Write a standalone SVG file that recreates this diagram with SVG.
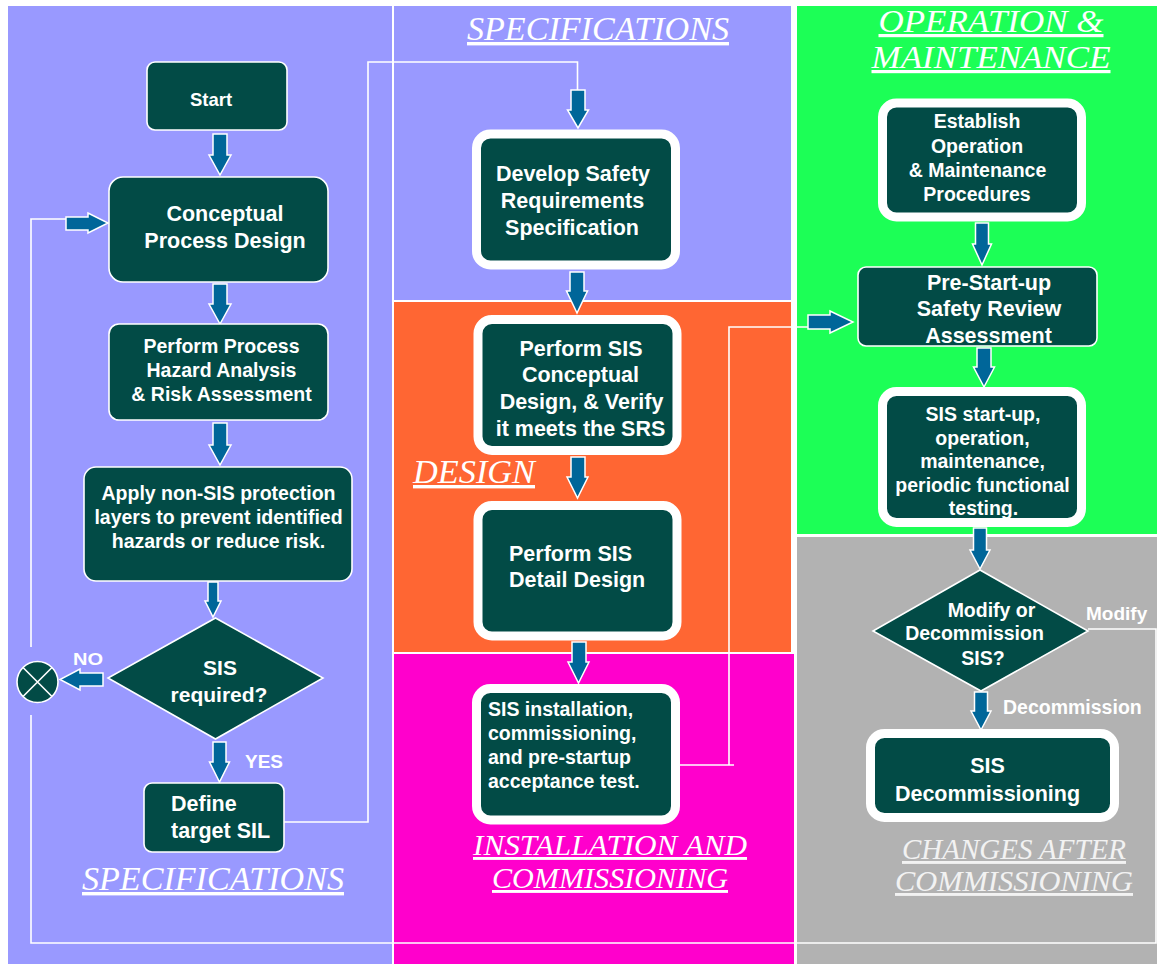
<svg xmlns="http://www.w3.org/2000/svg" width="1157" height="964" viewBox="0 0 1157 964">
<style>
.box{fill:#024B46;stroke:#fff;stroke-width:1.6}
.thick{fill:#024B46;stroke:#fff;stroke-width:9}
.t{fill:#fff;font-family:"Liberation Sans",Arial,sans-serif;font-weight:bold;text-anchor:middle}
.l{fill:#fff;font-family:"Liberation Sans",Arial,sans-serif;font-weight:bold}
.arr{fill:#006699;stroke:#fff;stroke-width:1.5;stroke-linejoin:miter}
.conn{fill:none;stroke:#fff;stroke-width:1.6}
.ttl{fill:#fff;font-family:"Liberation Serif","Times New Roman",serif;font-style:italic;text-decoration:underline;text-anchor:middle}
</style>
<rect x="0" y="0" width="1157" height="964" fill="#fff"/>
<g id="panels">
<rect x="8" y="6" width="384" height="958" fill="#9999FF"/>
<rect x="394" y="6" width="397" height="294" fill="#9999FF"/>
<rect x="394" y="302" width="397" height="350" fill="#FF6633"/>
<rect x="394" y="654" width="400" height="310" fill="#FF00CC"/>
<rect x="797" y="6" width="360" height="528" fill="#1CFF56"/>
<rect x="797" y="537" width="360" height="427" fill="#B2B2B2"/>
</g>
<g id="titles">
<text class="ttl" x="598" y="40" font-size="34" textLength="262" lengthAdjust="spacingAndGlyphs">SPECIFICATIONS</text>
<text class="ttl" x="213" y="890" font-size="34" textLength="262" lengthAdjust="spacingAndGlyphs">SPECIFICATIONS</text>
<text class="ttl" x="474" y="483" font-size="34" textLength="122" lengthAdjust="spacingAndGlyphs">DESIGN</text>
<text class="ttl" x="610" y="855" font-size="29" textLength="274" lengthAdjust="spacingAndGlyphs">INSTALLATION AND</text>
<text class="ttl" x="610" y="888" font-size="29" textLength="236" lengthAdjust="spacingAndGlyphs">COMMISSIONING</text>
<text class="ttl" x="991" y="32" font-size="32" textLength="225" lengthAdjust="spacingAndGlyphs">OPERATION &amp;</text>
<text class="ttl" x="991" y="68" font-size="32" textLength="239" lengthAdjust="spacingAndGlyphs">MAINTENANCE</text>
<text class="ttl" x="1014" y="859" font-size="29" textLength="224" lengthAdjust="spacingAndGlyphs" style="fill:#F2F2F2">CHANGES AFTER</text>
<text class="ttl" x="1014" y="891" font-size="29" textLength="238" lengthAdjust="spacingAndGlyphs" style="fill:#F2F2F2">COMMISSIONING</text>
</g>
<g id="connectors">
<path class="conn" d="M1088,629 H1156 V943 H31 V715"/>
<path class="conn" d="M31,647 V219 H66"/>
<path class="conn" d="M284,822 H368 V62 H577.5 V90"/>
<path class="conn" d="M679,765 H734 M729,765 V327 H808"/>
<polygon class="arr" points="213,134 227,134 227,155 231,155 220,175 209,155 213,155"/>
<polygon class="arr" points="213,284 227,284 227,304 231,304 220,324 209,304 213,304"/>
<polygon class="arr" points="213,423 227,423 227,445 231,445 220,465 209,445 213,445"/>
<polygon class="arr" points="208,582 218,582 218,601 221,601 213,617 205,601 208,601"/>
<polygon class="arr" points="213,742 226,742 226,762 229.5,762 219.5,782 209.5,762 213,762"/>
<polygon class="arr" points="103,673 103,686 80,686 80,690 60,679.5 80,669 80,673"/>
<polygon class="arr" points="66,217 88,217 88,213 108,223 88,233 88,230 66,230"/>
<polygon class="arr" points="571,90 585,90 585,110 588.5,110 578,128 567.5,110 571,110"/>
<polygon class="arr" points="570,272 584,272 584,291 587.5,291 577,313 566.5,291 570,291"/>
<polygon class="arr" points="571,457 585,457 585,477 588,477 577.5,498 567,477 571,477"/>
<polygon class="arr" points="572,642 586,642 586,662 589,662 578.5,683 568,662 572,662"/>
<polygon class="arr" points="808,315 830,315 830,311 853,322 830,333 830,329 808,329"/>
<polygon class="arr" points="975.5,223 988.5,223 988.5,244 991.5,244 982,265 972.5,244 975.5,244"/>
<polygon class="arr" points="977,348 991,348 991,367 994.5,367 984,387 973.5,367 977,367"/>
<polygon class="arr" points="973.5,528 986.5,528 986.5,550 990,550 980,569 970,550 973.5,550"/>
<polygon class="arr" points="974.5,692 987.5,692 987.5,711 991,711 981,730 971,711 974.5,711"/>
</g>
<g id="edge-labels">
<text class="l" x="73" y="665" font-size="17" textLength="30" lengthAdjust="spacingAndGlyphs">NO</text>
<text class="l" x="245" y="768" font-size="18" textLength="38" lengthAdjust="spacingAndGlyphs">YES</text>
<text class="l" x="1086" y="620" font-size="19">Modify</text>
<text class="l" x="1003" y="714" font-size="19.5">Decommission</text>
</g>
<g id="start">
<rect class="box" x="147" y="62" width="140" height="68" rx="8"/>
<text class="t" x="211" y="106" font-size="18.5">Start</text>
</g>
<g id="conceptual-process-design">
<rect class="box" x="109" y="177" width="219" height="105" rx="14"/>
<text class="t" x="225" y="221" font-size="21.5">Conceptual</text>
<text class="t" x="225" y="248" font-size="21.5">Process Design</text>
</g>
<g id="hazard-analysis">
<rect class="box" x="109" y="324" width="219" height="96" rx="10"/>
<text class="t" x="221.5" y="353" font-size="19.5">Perform Process</text>
<text class="t" x="221.5" y="377" font-size="19.5">Hazard Analysis</text>
<text class="t" x="221.5" y="401" font-size="19.5">&amp; Risk Assessment</text>
</g>
<g id="non-sis-layers">
<rect class="box" x="84" y="467" width="268" height="114" rx="12"/>
<text class="t" x="218.5" y="500" font-size="19.5">Apply non-SIS protection</text>
<text class="t" x="218.5" y="524" font-size="19.5">layers to prevent identified</text>
<text class="t" x="218.5" y="548" font-size="19.5">hazards or reduce risk.</text>
</g>
<g id="sis-required">
<polygon class="box" points="215.5,618 323,678 215.5,739 108,678"/>
<text class="t" x="220" y="675" font-size="21">SIS</text>
<text class="t" x="219" y="702" font-size="21">required?</text>
</g>
<g id="no-sis">
<circle class="box" cx="37.5" cy="682" r="20.5"/>
<path class="conn" d="M23,667.5 L52,696.5 M52,667.5 L23,696.5"/>
</g>
<g id="define-sil">
<rect class="box" x="144" y="783" width="140" height="69" rx="8"/>
<text class="l" x="171" y="811" font-size="21.5">Define</text>
<text class="l" x="171" y="838" font-size="21.5">target SIL</text>
</g>
<g id="srs">
<rect class="thick" x="476.5" y="134" width="199" height="131" rx="14"/>
<text class="t" x="573" y="181" font-size="21.5">Develop Safety</text>
<text class="t" x="572.5" y="208" font-size="21.5">Requirements</text>
<text class="t" x="572" y="235" font-size="21.5">Specification</text>
</g>
<g id="conceptual-design">
<rect class="thick" x="478" y="319.5" width="199" height="131" rx="14"/>
<text class="t" x="581" y="356" font-size="21.5">Perform SIS</text>
<text class="t" x="580.5" y="382" font-size="21.5">Conceptual</text>
<text class="t" x="581.5" y="409" font-size="21.5">Design, &amp; Verify</text>
<text class="t" x="580.5" y="436" font-size="21.5">it meets the SRS</text>
</g>
<g id="detail-design">
<rect class="thick" x="478" y="505.5" width="199" height="130.5" rx="14"/>
<text class="l" x="509" y="561" font-size="21.5">Perform SIS</text>
<text class="l" x="509" y="587" font-size="21.5">Detail Design</text>
</g>
<g id="installation">
<rect class="thick" x="476.5" y="688.5" width="199" height="131.5" rx="14"/>
<text class="l" x="488" y="716" font-size="19.5">SIS installation,</text>
<text class="l" x="488" y="740" font-size="19.5">commissioning,</text>
<text class="l" x="488" y="764" font-size="19.5">and pre-startup</text>
<text class="l" x="488" y="788" font-size="19.5">acceptance test.</text>
</g>
<g id="om-procedures">
<rect class="thick" x="882.5" y="103" width="199" height="114" rx="14"/>
<text class="t" x="977" y="128" font-size="19.5">Establish</text>
<text class="t" x="977" y="153" font-size="19.5">Operation</text>
<text class="t" x="977.5" y="177" font-size="19.5">&amp; Maintenance</text>
<text class="t" x="977" y="201" font-size="19.5">Procedures</text>
</g>
<g id="pssr">
<rect class="box" x="858" y="267" width="239" height="79" rx="8"/>
<text class="t" x="989" y="290" font-size="21.5">Pre-Start-up</text>
<text class="t" x="989" y="316" font-size="21.5">Safety Review</text>
<text class="t" x="988.5" y="343" font-size="21.5">Assessment</text>
</g>
<g id="operation">
<rect class="thick" x="882.5" y="391.5" width="199" height="131" rx="14"/>
<text class="t" x="983" y="421" font-size="19.5">SIS start-up,</text>
<text class="t" x="982.5" y="445" font-size="19.5">operation,</text>
<text class="t" x="982.5" y="468" font-size="19.5">maintenance,</text>
<text class="t" x="982.5" y="492" font-size="19.5">periodic functional</text>
<text class="t" x="983.5" y="515" font-size="19.5">testing.</text>
</g>
<g id="modify-decision">
<polygon class="box" points="980,570 1088,631 981,691 873,631"/>
<text class="t" x="991.5" y="617" font-size="19.5">Modify or</text>
<text class="t" x="974.5" y="640" font-size="19.5">Decommission</text>
<text class="t" x="983" y="665" font-size="19.5">SIS?</text>
</g>
<g id="decommissioning">
<rect class="thick" x="870.5" y="733.5" width="244" height="84" rx="14"/>
<text class="t" x="987.5" y="773" font-size="21.5">SIS</text>
<text class="t" x="987.5" y="801" font-size="21.5">Decommissioning</text>
</g>
</svg>
